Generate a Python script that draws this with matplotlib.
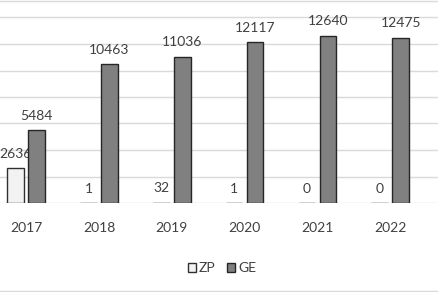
import matplotlib
matplotlib.use("Agg")
import matplotlib.pyplot as plt
from matplotlib.lines import Line2D
import numpy as np

years = ["2017", "2018", "2019", "2020", "2021", "2022"]
zp = [2636, 1, 32, 1, 0, 0]
ge = [5484, 10463, 11036, 12117, 12640, 12475]

plt.rcParams['font.family'] = ['Lato', 'DejaVu Sans']
txt = '#404040'
fs = 10

W, H = 438, 292
fig = plt.figure(figsize=(W/100, H/100), dpi=100)
base_px = 203
ax = fig.add_axes([0, (H - base_px)/H, 1, base_px/H])

x = np.arange(len(years))
bw = 0.227
off = 0.1435
b1 = ax.bar(x - off, zp, bw, color='#f2f2f2', edgecolor='#303030', linewidth=1.0, zorder=2, label='ZP')
b2 = ax.bar(x + off, ge, bw, color='#808080', edgecolor='#262626', linewidth=1.0, zorder=4, label='GE')

l1 = ax.bar_label(b1, padding=6, fontsize=fs, color=txt)
for t in l1:
    t.set_zorder(3)
l2 = ax.bar_label(b2, padding=6, fontsize=fs, color=txt)
for t in l2:
    t.set_zorder(5)

ax.set_xlim(-0.36, 5.657)
ax.set_ylim(0, 203 * 2000 / 26.5)
ax.set_yticks(np.arange(0, 14001, 2000))
ax.yaxis.grid(True, color='#d9d9d9', linewidth=1.0)
ax.set_axisbelow(True)
ax.set_xticks(x)
ax.set_xticklabels(years)
ax.tick_params(axis='x', length=0, pad=14, labelsize=fs, labelcolor=txt)
ax.tick_params(axis='y', left=False, labelleft=False)
for s in ax.spines.values():
    s.set_visible(False)
ax.patch.set_alpha(0)

fig.legend(handles=[b1, b2], labels=['ZP', 'GE'], loc='center',
           bbox_to_anchor=(222/W, (H-268)/H), ncol=2, frameon=False,
           fontsize=fs, labelcolor=txt, handlelength=0.6, handleheight=0.6,
           handletextpad=0.2, columnspacing=0.8)

fig.add_artist(Line2D([0, 1], [1 - 0.5/H, 1 - 0.5/H], color='#d9d9d9', linewidth=1.0, transform=fig.transFigure))
fig.add_artist(Line2D([0, 1], [1.5/H, 1.5/H], color='#d9d9d9', linewidth=1.0, transform=fig.transFigure))

fig.savefig("out.png", dpi=100)
